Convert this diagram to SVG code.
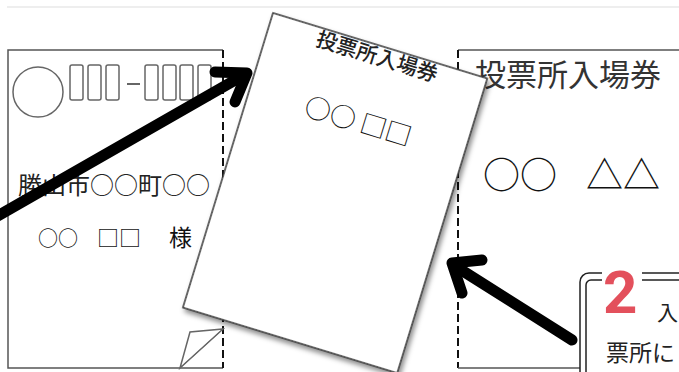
<svg xmlns="http://www.w3.org/2000/svg" width="679" height="372" viewBox="0 0 679 372">
<defs>
<style>
.jp{font-family:"Noto Sans CJK JP","Noto Sans",sans-serif;}
.edge{fill:none;stroke:#555;stroke-width:1.5;}
.dash{fill:none;stroke:#111;stroke-width:2;stroke-dasharray:8 4;}
.pbox{fill:none;stroke:#666;stroke-width:1.5;}
.arrow{fill:none;stroke:#000;stroke-width:11;stroke-linecap:round;stroke-linejoin:round;}
</style>
<filter id="shadow" x="-10%" y="-10%" width="125%" height="125%">
<feDropShadow dx="3" dy="3" stdDeviation="2.5" flood-color="#000" flood-opacity="0.45"/>
</filter>
</defs>
<rect width="679" height="372" fill="#fff"/>
<line x1="7" y1="7" x2="679" y2="7" stroke="#ddd" stroke-width="1"/>

<g id="envelope">
<polyline class="edge" points="223,50 8,50 8,368 223,368"/>
<line class="dash" x1="223" y1="50" x2="223" y2="368"/>
<polygon class="pbox" points="180,368 190,332 223,329" stroke-width="1"/>
<line x1="180" y1="368" x2="223" y2="329" stroke="#666" stroke-width="1"/>
<circle cx="38" cy="92" r="25" class="pbox"/>
<rect class="pbox" x="70" y="65" width="13" height="35" rx="2"/>
<rect class="pbox" x="88" y="65" width="13" height="35" rx="2"/>
<rect class="pbox" x="106" y="65" width="13" height="35" rx="2"/>
<line x1="127" y1="84" x2="140" y2="84" stroke="#666" stroke-width="2"/>
<rect class="pbox" x="145" y="65" width="13" height="35" rx="2"/>
<rect class="pbox" x="163" y="65" width="13" height="35" rx="2"/>
<rect class="pbox" x="180" y="65" width="13" height="35" rx="2"/>
<rect class="pbox" x="198" y="65" width="13" height="35" rx="2"/>
<text class="jp" x="18" y="194" font-size="24" fill="#222">勝山市○○町○○</text>
<text class="jp" y="246" font-size="20" fill="#111"><tspan x="38">○○</tspan><tspan x="97" font-size="22">□□</tspan><tspan x="169" font-size="23">様</tspan></text>
</g>

<g id="ticket-stub">
<polyline class="edge" points="679,50 458,50"/>
<line class="dash" x1="458" y1="50" x2="458" y2="368"/>
<line class="edge" x1="458" y1="368" x2="582" y2="368"/>
<text class="jp" x="475" y="86" font-size="31" fill="#333">投票所入場券</text>
<text class="jp" y="189" font-size="37" fill="#111"><tspan x="483">○○</tspan><tspan x="586">△△</tspan></text>
</g>

<g id="ticket-card">
<g transform="translate(273,13) rotate(17)">
<rect x="0" y="0" width="224" height="308" fill="#fff" stroke="#333" stroke-width="1.5" filter="url(#shadow)"/>
</g>
<g transform="translate(377,57) rotate(17)">
<text class="jp" x="0" y="7" font-size="21" font-weight="500" text-anchor="middle" fill="#222">投票所入場券</text>
</g>
<g transform="translate(358,122) rotate(17)">
<text class="jp" x="0" y="9" font-size="26" text-anchor="middle" fill="#111">○○ □□</text>
</g>
</g>

<g id="callout">
<rect x="580" y="273" width="130" height="120" rx="9" fill="#fff" stroke="#222" stroke-width="1.5"/>
<rect x="586" y="280" width="120" height="110" rx="5" fill="none" stroke="#222" stroke-width="1.5"/>
<rect x="602" y="269" width="40" height="15" fill="#fff"/>
<text x="603" y="313" font-family="Roboto,'Liberation Sans',sans-serif" font-size="60" font-weight="bold" fill="#e3505c">2</text>
<text class="jp" x="657" y="320" font-size="21" fill="#222">入</text>
<text class="jp" x="606" y="361" font-size="23" fill="#222">票所に</text>
</g>

<g id="connectors">
<line class="arrow" x1="-6" y1="218" x2="244" y2="75"/>
<polyline class="arrow" points="215,72 247,73 235,102"/>
<line class="arrow" x1="572" y1="340" x2="455" y2="266"/>
<polyline class="arrow" points="482,260 452,263 462,293"/>
</g>
</svg>
